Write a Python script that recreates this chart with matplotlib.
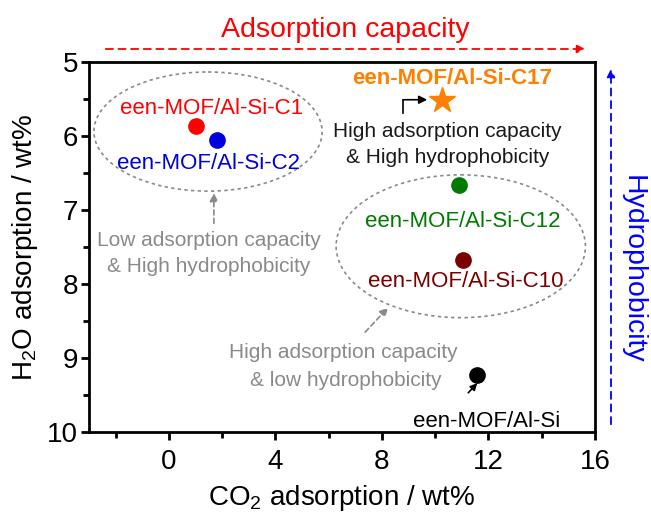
import matplotlib
matplotlib.use("Agg")
import matplotlib.pyplot as plt
from matplotlib.patches import Ellipse, FancyArrowPatch

plt.rcParams['font.family'] = ['Liberation Sans', 'DejaVu Sans']
plt.rcParams['mathtext.fontset'] = 'custom'
plt.rcParams['mathtext.rm'] = 'Liberation Sans'
plt.rcParams['mathtext.it'] = 'Liberation Sans:italic'

# ---- data ----
names = ["een-MOF/Al-Si-C1", "een-MOF/Al-Si-C2", "een-MOF/Al-Si-C17",
         "een-MOF/Al-Si-C12", "een-MOF/Al-Si-C10", "een-MOF/Al-Si"]
co2 = [1.0, 1.8, 10.26, 10.9, 11.05, 11.58]
h2o = [5.87, 6.06, 5.51, 6.66, 7.68, 9.23]
colors = ["#ff0000", "#0000dd", "#ff8000", "#007a00", "#7a0000", "#000000"]
markers = ["o", "o", "*", "o", "o", "o"]
xticks = [0, 4, 8, 12, 16]
yticks = [5, 6, 7, 8, 9, 10]

fig = plt.figure(figsize=(6.51, 5.15), dpi=100)
ax = fig.add_axes([89/651, (515-432)/515, (595-89)/651, (432-62)/515])

for x, y, c, m in zip(co2, h2o, colors, markers):
    ax.plot([x], [y], marker=m, color=c, markersize=19 if m == "*" else 11,
            linestyle="none", zorder=5)

ax.set_xlim(-3, 16)
ax.set_ylim(10, 5)
ax.set_xticks(xticks)
ax.set_xticks([-2, 2, 6, 10, 14], minor=True)
ax.set_yticks(yticks)
ax.set_yticks([5.5, 6.5, 7.5, 8.5, 9.5], minor=True)
ax.tick_params(which="both", direction="out", width=2, labelsize=20)
ax.tick_params(which="major", length=6)
ax.tick_params(which="minor", length=4)
ax.tick_params(axis="x", pad=6)
ax.tick_params(axis="y", pad=2)
for s in ax.spines.values():
    s.set_linewidth(2)

ax.set_xlabel("CO$_2$ adsorption / wt%", fontsize=20, labelpad=6)
ax.set_ylabel("H$_2$O adsorption / wt%", fontsize=20, labelpad=5)

gray = "#8a8a8a"
# point labels
ax.text(1.62, 5.70, names[0], color=colors[0], fontsize=16, ha="center", va="baseline")
ax.text(1.47, 6.45, names[1], color=colors[1], fontsize=16, ha="center", va="baseline")
ax.text(10.64, 5.30, names[2], color=colors[2], fontsize=16, ha="center", va="baseline",
        fontweight="bold")
ax.text(11.05, 7.23, names[3], color=colors[3], fontsize=16, ha="center", va="baseline")
ax.text(11.13, 8.04, names[4], color=colors[4], fontsize=16, ha="center", va="baseline")
ax.text(11.92, 9.93, names[5], color=colors[5], fontsize=16, ha="center", va="baseline")

# group ellipses
ax.add_patch(Ellipse((1.47, 5.94), 8.57, 1.61, fill=False, edgecolor=gray,
                     linestyle=(0, (2, 2)), linewidth=1.2))
ax.add_patch(Ellipse((10.96, 7.49), 9.36, 1.93, fill=False, edgecolor=gray,
                     linestyle=(0, (2, 2)), linewidth=1.2))

# annotations
ax.text(1.5, 7.49, "Low adsorption capacity", color=gray, fontsize=15, ha="center", va="baseline")
ax.text(1.5, 7.84, "& High hydrophobicity", color=gray, fontsize=15, ha="center", va="baseline")
ax.annotate("", xy=(1.69, 6.77), xytext=(1.69, 7.18),
            arrowprops=dict(arrowstyle="-|>", color=gray, lw=1.2, linestyle=(0, (3, 2)),
                            mutation_scale=12, shrinkA=0, shrinkB=0))

ax.text(10.47, 6.01, "High adsorption capacity", color="#1a1a1a", fontsize=15, ha="center", va="baseline")
ax.text(10.47, 6.36, "& High hydrophobicity", color="#1a1a1a", fontsize=15, ha="center", va="baseline")
ax.plot([8.8, 8.8], [5.69, 5.51], color="black", lw=1.2)
ax.annotate("", xy=(9.7, 5.51), xytext=(8.8, 5.51),
            arrowprops=dict(arrowstyle="-|>", color="black", lw=1.2,
                            mutation_scale=12, shrinkA=0, shrinkB=0))

ax.text(6.56, 9.00, "High adsorption capacity", color=gray, fontsize=15, ha="center", va="baseline")
ax.text(6.64, 9.38, "& low hydrophobicity", color=gray, fontsize=15, ha="center", va="baseline")
ax.annotate("", xy=(8.23, 8.32), xytext=(7.37, 8.65),
            arrowprops=dict(arrowstyle="-|>", color=gray, lw=1.2, linestyle=(0, (3, 2)),
                            mutation_scale=12, shrinkA=0, shrinkB=0))
ax.annotate("", xy=(11.58, 9.34), xytext=(11.24, 9.47),
            arrowprops=dict(arrowstyle="-|>", color="black", lw=1.2,
                            mutation_scale=10, shrinkA=0, shrinkB=0))

# figure-level direction arrows
W, H = 651, 515
fig.add_artist(FancyArrowPatch((103/W, 1-49/H), (588/W, 1-49/H), transform=fig.transFigure,
                               arrowstyle="-|>", mutation_scale=12, color="#ff0000",
                               lw=1.3, linestyle=(0, (4, 3))))
fig.text(345/W, 1-37/H, "Adsorption capacity", color="#ff0000", fontsize=20.5,
         ha="center", va="baseline")
fig.add_artist(FancyArrowPatch((611/W, 1-427/H), (611/W, 1-66/H), transform=fig.transFigure,
                               arrowstyle="-|>", mutation_scale=12, color="#0000ff",
                               lw=1.3, linestyle=(0, (4, 3))))
fig.text(633/W, 1-269/H, "Hydrophobicity", color="#0000ff", fontsize=20.5,
         ha="center", va="center", rotation=-90)

fig.savefig("out.png", dpi=100)
